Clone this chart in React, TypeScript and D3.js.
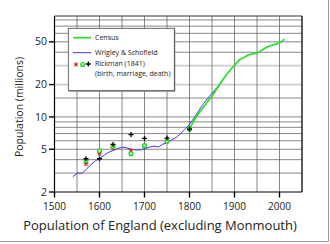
import React from "react";
import * as d3 from "d3";

const censusYears = [1801,1811,1821,1831,1841,1851,1861,1871,1881,1891,1901,1911,1921,1931,1951,1961,1971,1981,1991,2001,2011];
const censusPop = [7.9,9.4,10.9,12.3,14.0,15.8,18.3,21.2,24.4,27.5,30.5,34.0,35.8,37.8,39.4,41.8,44.5,46.2,47.6,49.1,53.0];

const wsYears = [1541,1551,1561,1571,1581,1591,1601,1611,1621,1631,1641,1651,1661,1671,1681,1691,1701,1711,1721,1731,1741,1751,1761,1771,1781,1791,1801,1811,1821,1831,1841,1851,1861,1871];
const wsPop = [2.77,3.01,2.98,3.27,3.6,3.9,4.11,4.42,4.69,4.89,5.09,5.23,5.14,4.98,4.93,4.93,5.06,5.23,5.35,5.26,5.58,5.77,6.15,6.45,7.04,7.74,8.66,9.89,11.49,13.28,14.97,16.74,18.8,21.5];

const rickYears = [1570,1600,1630,1670,1700,1750,1800];
const rickRed = [3.65,4.55,5.1,4.9,5.4,5.9,7.7];
const rickGreen = [3.9,4.85,5.3,4.55,5.4,5.97,7.7];
const rickBlack = [4.08,4.08,5.55,6.85,6.3,6.35,7.7];

const xTicks = [1500,1600,1700,1800,1900,2000];
const xGrid = [1550,1600,1650,1700,1750,1800,1850,1900,1950,2000];
const yTicks = [2,5,10,20,50];
const yGridDark = [3,4,5,6,7,8,9,10,15,40,50,60,70,80];
const yGridLight = [20,30];

const FONT = "'Open Sans', 'Noto Sans', sans-serif";

export default function App() {
  const x = d3.scaleLinear().domain([1500, 2050]).range([54.5, 302]);
  const y = d3.scaleLog().domain([2, 87]).range([192, 16]);

  const censusLine = d3.line<number>().x((_, i) => x(censusYears[i])).y((v) => y(v));
  const wsLine = d3.line<number>().x((_, i) => x(wsYears[i])).y((v) => y(v));
  const star = d3.symbol().type(d3.symbolStar).size(11)() as string;

  const plus = (cx: number, cy: number, k: string) => (
    <path key={k} d={`M${cx - 2.5},${cy}H${cx + 2.5}M${cx},${cy - 2.5}V${cy + 2.5}`} stroke="#000" strokeWidth={1.3} />
  );
  const ring = (cx: number, cy: number, k: string) => (
    <circle key={k} cx={cx} cy={cy} r={2.0} fill="#9f9" stroke="#2c2" strokeWidth={1.1} />
  );
  const redStar = (cx: number, cy: number, k: string) => (
    <path key={k} d={star} transform={`translate(${cx},${cy})`} fill="#e02020" />
  );

  return (
    <svg width={330} height={244} style={{ position: "absolute", left: 0, top: 0, background: "#fff" }} fontFamily={FONT}>
      <rect x={0} y={0} width={330} height={244} fill="#fff" />
      <line x1={328.5} y1={0} x2={328.5} y2={241.5} stroke="#999" strokeWidth={1} />
      <line x1={0} y1={241.5} x2={328.5} y2={241.5} stroke="#999" strokeWidth={1} />

      {yGridLight.map((v) => (
        <line key={"gl" + v} x1={x(1500)} x2={x(2050)} y1={y(v)} y2={y(v)} stroke="#cfcfcf" strokeWidth={1.6} />
      ))}
      {yGridDark.map((v) => (
        <line key={"gd" + v} x1={x(1500)} x2={x(2050)} y1={y(v)} y2={y(v)} stroke="#555" strokeWidth={0.7} />
      ))}
      {xGrid.map((v) => (
        <line key={"gx" + v} x1={x(v)} x2={x(v)} y1={y(87)} y2={y(2)} stroke="#555" strokeWidth={0.7} />
      ))}
      <line x1={x(1500)} x2={x(2050)} y1={16} y2={16} stroke="#333" strokeWidth={1} />
      <line x1={302} x2={302} y1={16} y2={192} stroke="#333" strokeWidth={1.6} />
      <line x1={54.5} x2={54.5} y1={16} y2={192} stroke="#000" strokeWidth={1.2} />
      <line x1={54.5} x2={302} y1={192} y2={192} stroke="#000" strokeWidth={1.2} />

      {yTicks.map((v) => (
        <g key={"yt" + v}>
          <line x1={49} x2={54.5} y1={y(v)} y2={y(v)} stroke="#000" strokeWidth={1.4} />
          <text x={47} y={y(v) + 3.6} textAnchor="end" fontSize={10.5} fill="#222">{v}</text>
        </g>
      ))}
      {xTicks.map((v) => (
        <g key={"xt" + v}>
          <line x1={x(v)} x2={x(v)} y1={192} y2={197.5} stroke="#000" strokeWidth={1.4} />
          <text x={x(v)} y={210} textAnchor="middle" fontSize={10} fill="#222">{v}</text>
        </g>
      ))}

      <text x={160} y={230} textAnchor="middle" fontSize={13} fill="#222">Population of England (excluding Monmouth)</text>
      <text transform="translate(22.5,107) rotate(-90)" textAnchor="middle" fontSize={10.5} fill="#222">Population (millions)</text>

      <path d={wsLine(wsPop) as string} fill="none" stroke="#3a3ae0" strokeWidth={1} />
      <path d={censusLine(censusPop) as string} fill="none" stroke="#30e030" strokeWidth={1.8} />
      {rickYears.map((yr, i) => redStar(x(yr), y(rickRed[i]), "r" + i))}
      {rickYears.map((yr, i) => ring(x(yr), y(rickGreen[i]), "g" + i))}
      {rickYears.map((yr, i) => plus(x(yr), y(rickBlack[i]), "b" + i))}

      <rect x={69.3} y={29.3} width={106} height={62.4} fill="#888" />
      <rect x={68.3} y={28.3} width={106} height={62.4} fill="#fff" stroke="#444" strokeWidth={0.8} />
      <line x1={73} x2={91} y1={37.7} y2={37.7} stroke="#30e030" strokeWidth={1.8} />
      <text x={95} y={40} fontSize={7} fill="#222">Census</text>
      <line x1={73} x2={91} y1={52.7} y2={52.7} stroke="#3a3ae0" strokeWidth={1} />
      <text x={95} y={55} fontSize={7} fill="#222">Wrigley &amp; Schofield</text>
      {redStar(76, 64.5, "lr")}
      {ring(82.7, 64.5, "lg")}
      {plus(88.3, 64, "lb")}
      <text x={95} y={66} fontSize={7} fill="#222">Rickman (1841)</text>
      <text x={95} y={75.5} fontSize={7} fill="#222">(birth, marriage, death)</text>
    </svg>
  );
}
